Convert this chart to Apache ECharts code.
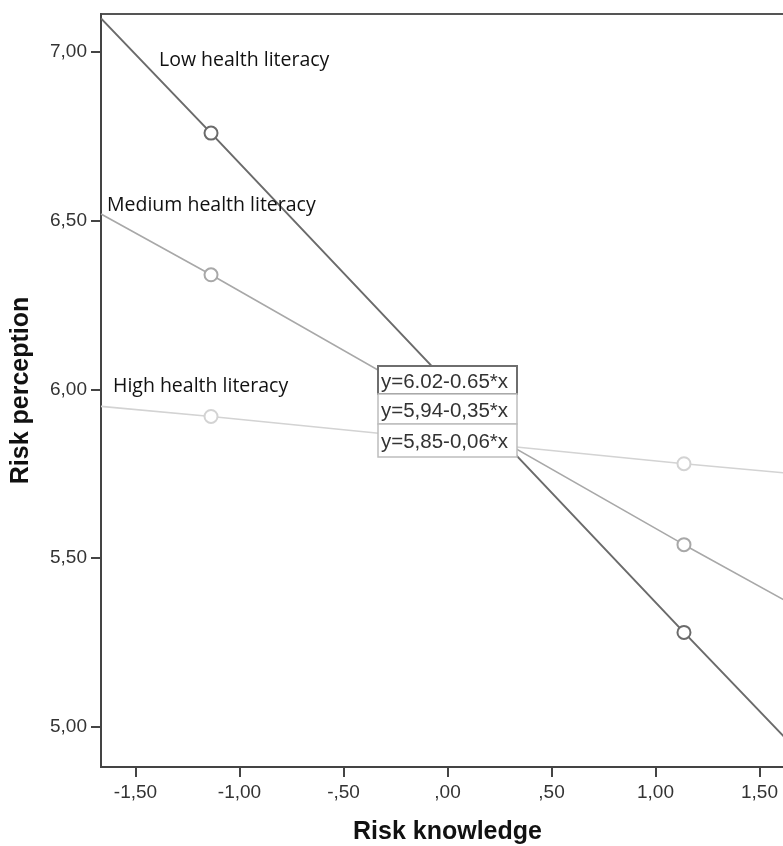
<!DOCTYPE html>
<html>
<head>
<meta charset="utf-8">
<script src="https://cdn.jsdelivr.net/npm/echarts@6/dist/echarts.min.js"></script>
<style>html,body{margin:0;padding:0;background:#fff}#c{width:783px;height:846px}</style>
</head>
<body>
<div id="c"></div>
<script>
const xTickValues = [-1.5, -1, -0.5, 0, 0.5, 1, 1.5];
const xTickLabels = ['-1,50', '-1,00', '-,50', ',00', ',50', '1,00', '1,50'];
const yTickValues = [5, 5.5, 6, 6.5, 7];
const yTickLabels = ['5,00', '5,50', '6,00', '6,50', '7,00'];
const seriesNames = ['Low health literacy', 'Medium health literacy', 'High health literacy'];
const knowledgeX = [-1.666, -1.137, 1.137, 1.666];
const lowHL = [7.10, 6.76, 5.28, 4.94];
const mediumHL = [6.52, 6.34, 5.54, 5.36];
const highHL = [5.95, 5.92, 5.78, 5.75];
const equations = ['y=6.02-0.65*x', 'y=5,94-0,35*x', 'y=5,85-0,06*x'];

const colors = ['#6b6b6b', '#a8a8a8', '#d3d3d3'];
const widths = [2, 1.6, 1.6];

function mk(vals, idx) {
  return {
    name: seriesNames[idx],
    type: 'line',
    data: knowledgeX.map((x, i) => ({
      value: [x, vals[i]],
      symbol: (i === 0 || i === knowledgeX.length - 1) ? 'none' : 'circle'
    })),
    symbolSize: 13,
    showAllSymbol: true,
    lineStyle: { color: colors[idx], width: widths[idx] },
    itemStyle: { color: '#fff', borderColor: colors[idx], borderWidth: 2 },
    emphasis: { disabled: true },
    animation: false,
    z: 2 + (2 - idx)
  };
}

const chart = echarts.init(document.getElementById('c'), null, { renderer: 'canvas' });

const rows = [[366, 394], [394, 424], [424, 457]];
const graphics = [];
rows.forEach((r, i) => {
  graphics.push({
    type: 'rect', z: 100 + i,
    shape: { x: 378, y: r[0], width: 139, height: r[1] - r[0] },
    style: { fill: '#fff', stroke: i === 0 ? '#6e6e6e' : '#bdbdbd', lineWidth: i === 0 ? 2 : 1.5 }
  });
  graphics.push({
    type: 'text', z: 110,
    x: 381, y: (r[0] + r[1]) / 2 + 2,
    style: { text: equations[i], font: '20.5px "Liberation Sans", Arial, sans-serif', fill: '#333', verticalAlign: 'middle', align: 'left' }
  });
});
const labelPos = [[159, 60], [107, 205], [113, 386]];
seriesNames.forEach((n, i) => {
  graphics.push({
    type: 'text', z: 110,
    x: labelPos[i][0], y: labelPos[i][1],
    style: { text: n, font: '19.5px "Open Sans", sans-serif', fill: '#111', verticalAlign: 'middle', align: 'left' }
  });
});

chart.setOption({
  backgroundColor: '#fff',
  animation: false,
  grid: { left: 101, top: 14, right: -11, bottom: 79, outerBoundsMode: 'none', containLabel: false, show: true, borderColor: '#555', borderWidth: 2, backgroundColor: 'transparent' },
  xAxis: {
    type: 'value', min: -1.666, max: 1.666,
    name: 'Risk knowledge', nameLocation: 'middle', nameGap: 53,
    nameTextStyle: { fontFamily: '"Liberation Sans", Arial, sans-serif', fontWeight: 'bold', fontSize: 25, color: '#111' },
    axisLine: { show: true, onZero: false, lineStyle: { color: '#444', width: 2 } },
    axisTick: { show: true, length: 10, customValues: xTickValues, lineStyle: { color: '#444', width: 2 } },
    axisLabel: {
      customValues: xTickValues, margin: 16,
      fontFamily: '"Liberation Sans", Arial, sans-serif', fontSize: 19, color: '#333',
      formatter: v => xTickLabels[xTickValues.findIndex(t => Math.abs(t - v) < 1e-6)] || ''
    },
    splitLine: { show: false }
  },
  yAxis: {
    type: 'value', min: 4.881, max: 7.113,
    name: 'Risk perception', nameLocation: 'middle', nameGap: 67,
    nameTextStyle: { fontFamily: '"Liberation Sans", Arial, sans-serif', fontWeight: 'bold', fontSize: 25, color: '#111' },
    axisLine: { show: true, onZero: false, lineStyle: { color: '#444', width: 2 } },
    axisTick: { show: true, length: 10, customValues: yTickValues, lineStyle: { color: '#444', width: 2 } },
    axisLabel: {
      customValues: yTickValues, margin: 14,
      fontFamily: '"Liberation Sans", Arial, sans-serif', fontSize: 19, color: '#333',
      formatter: v => yTickLabels[yTickValues.findIndex(t => Math.abs(t - v) < 1e-6)] || ''
    },
    splitLine: { show: false }
  },
  series: [mk(lowHL, 0), mk(mediumHL, 1), mk(highHL, 2)],
  graphic: graphics
});
</script>
</body>
</html>
